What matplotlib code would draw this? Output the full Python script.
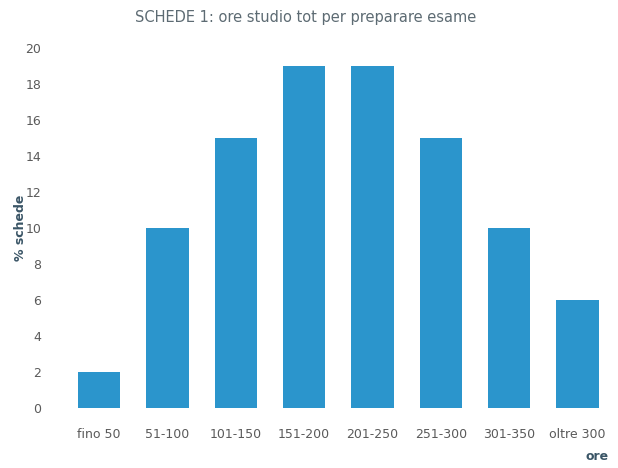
import matplotlib.pyplot as plt

categories = ['fino 50', '51-100', '101-150', '151-200', '201-250',
              '251-300', '301-350', 'oltre 300']
values = [2, 10, 15, 19, 19, 15, 10, 6]
yticks = list(range(0, 21, 2))

fig = plt.figure(figsize=(6.18, 4.68), dpi=100)
ax = fig.add_axes([0.105, 0.128, 0.885, 0.769])

ax.bar(range(len(categories)), values, width=0.62, color='#2b95cc')
ax.set_xlim(-0.5, 7.5)
ax.set_ylim(0, 20)
ax.set_yticks(yticks)
ax.set_xticks(range(len(categories)))
ax.set_xticklabels(categories)

for s in ax.spines.values():
    s.set_visible(False)
ax.tick_params(length=0, labelsize=9, colors='#5a5a5a')
ax.tick_params(axis='x', pad=14)
ax.tick_params(axis='y', pad=17)

fig.text(0.494, 0.962, 'SCHEDE 1: ore studio tot per preparare esame',
         ha='center', va='center', fontsize=10.5, color='#5d6b73')
ax.set_ylabel('% schede', fontsize=9, fontweight='bold', color='#3a5566')
ax.yaxis.set_label_coords(-0.07, 0.5)
fig.text(0.985, 0.01, 'ore', ha='right', va='bottom', fontsize=9,
         fontweight='bold', color='#3a5566')

fig.savefig('out.png', dpi=100)
